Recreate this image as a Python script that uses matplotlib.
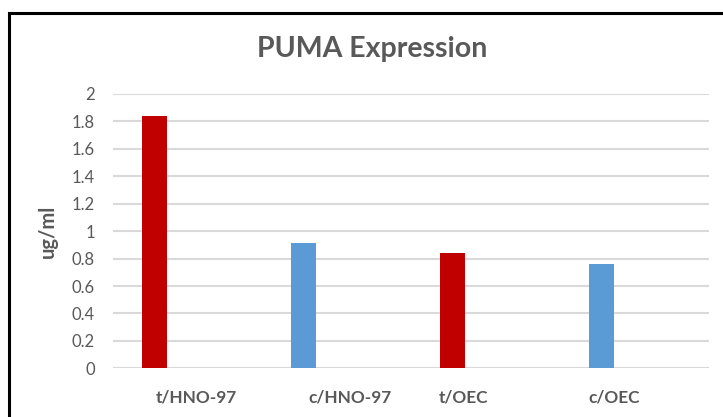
import matplotlib
matplotlib.use("Agg")
import matplotlib.pyplot as plt
import matplotlib.transforms as mtransforms
from matplotlib.patches import Rectangle

categories = ["t/HNO-97", "c/HNO-97", "t/OEC", "c/OEC"]
values = [1.84, 0.91, 0.84, 0.76]
bar_colors = ["#C00000", "#5B9BD5", "#C00000", "#5B9BD5"]
yticks = [0, 0.2, 0.4, 0.6, 0.8, 1, 1.2, 1.4, 1.6, 1.8, 2]
ytick_labels = ["0", "0.2", "0.4", "0.6", "0.8", "1", "1.2", "1.4", "1.6", "1.8", "2"]

# horizontal nudge (points) of each category label, as in the sheet
label_shift = [6.5, 9.5, -16, -15]

plt.rcParams["font.family"] = ["Lato", "DejaVu Sans"]
text_gray = "#595959"
grid_gray = "#D9D9D9"

fig = plt.figure(figsize=(7.23, 4.17), dpi=100)
ax = fig.add_axes([113 / 723, 1 - 368.3 / 417, 596 / 723, 274.3 / 417])

x = list(range(len(categories)))
ax.bar([i - 0.221 for i in x], values, width=0.168, color=bar_colors, zorder=3)

ax.set_xlim(-0.5, len(categories) - 0.5)
ax.set_ylim(0, 2)
ax.set_yticks(yticks)
ax.set_yticklabels(ytick_labels)
ax.set_xticks(x)
ax.set_xticklabels(categories, fontweight="bold")
ax.tick_params(axis="y", length=0, pad=13, labelsize=12, labelcolor=text_gray)
ax.tick_params(axis="x", length=0, pad=15, labelsize=12.4, labelcolor=text_gray)
for lbl, dx in zip(ax.get_xticklabels(), label_shift):
    lbl.set_transform(lbl.get_transform() +
                      mtransforms.ScaledTranslation(dx / 72, 0, fig.dpi_scale_trans))

ax.grid(axis="y", color=grid_gray, linewidth=1.5, zorder=0)
for s in ax.spines.values():
    s.set_visible(False)

fig.text(372 / 723, 1 - 49 / 417, "PUMA Expression", ha="center", va="center",
         fontsize=20.5, fontweight="bold", color=text_gray)
fig.text(48 / 723, 1 - 231 / 417, "ug/ml", rotation=90, ha="center", va="center",
         fontsize=14.5, fontweight="bold", color=text_gray)

# chart frame, running past the right and bottom edges
fig.add_artist(Rectangle((8.5 / 723, -0.2), 2, 1.2 - 12.5 / 417,
                         transform=fig.transFigure, fill=False,
                         edgecolor="black", linewidth=2.2))

fig.savefig("out.png", dpi=100)
